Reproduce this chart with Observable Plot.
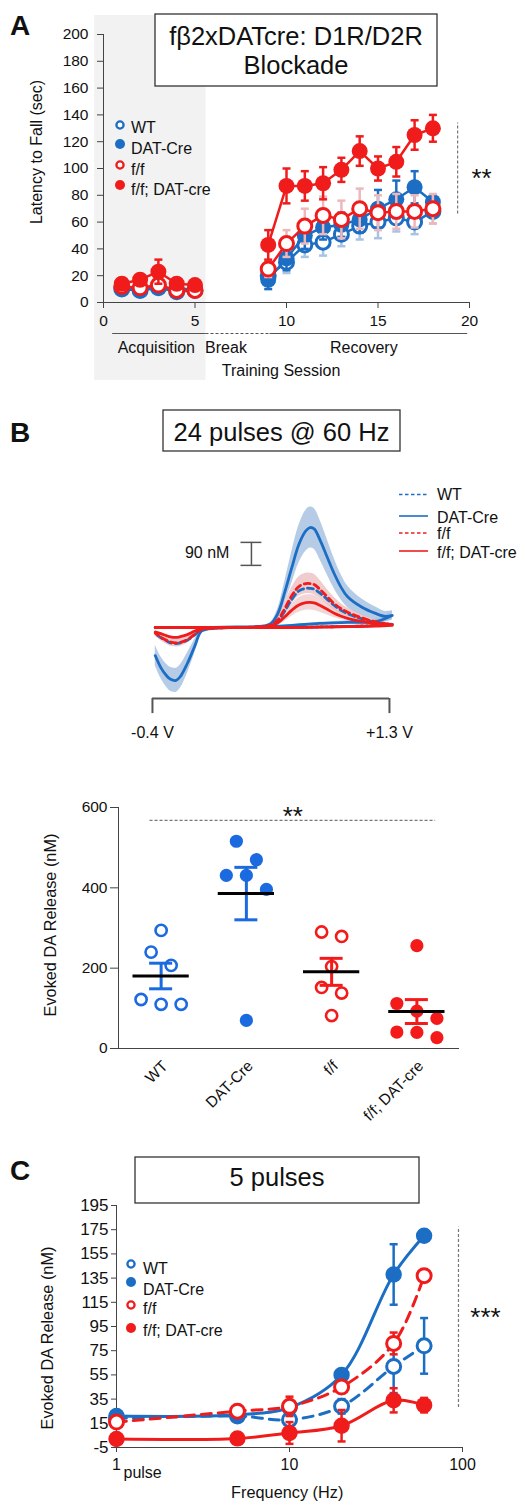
<!DOCTYPE html>
<html><head><meta charset="utf-8">
<script src="https://cdn.jsdelivr.net/npm/d3@7"></script>
<script src="https://cdn.jsdelivr.net/npm/@observablehq/plot@0.6"></script>
<style>
html,body{margin:0;padding:0;background:#fff;}
#root{position:relative;width:520px;height:1504px;overflow:hidden;background:#fff;}
</style></head>
<body><div id="root"></div>
<script>
// ================= DATA =================
const groups = ["WT", "DAT-Cre", "f/f", "f/f; DAT-cre"];

// Panel A: latency to fall (sec) per training session (mean, SEM)
const sessions   = [1, 2, 3, 4, 5, 9, 10, 11, 12, 13, 14, 15, 16, 17, 18];
const latWT      = [10, 9, 11, 8, 9, 20, 30, 43, 45, 51, 57, 60, 63, 60, 68];
const latWTse    = [2, 2, 2, 2, 2, 6, 8, 9, 10, 9, 10, 12, 10, 9, 9];
const latDAT     = [11, 10, 12, 10, 10, 17, 33, 50, 56, 58, 62, 70, 77, 86, 75];
const latDATse   = [2, 2, 2, 2, 2, 7, 9, 10, 9, 9, 10, 14, 14, 12, 5];
const latFF      = [12, 11, 13, 9, 9, 25, 44, 57, 65, 62, 70, 67, 68, 68, 70];
const latFFse    = [2, 2, 2, 2, 2, 6, 10, 13, 14, 14, 15, 13, 13, 12, 11];
const latFFDAT   = [14, 17, 23, 14, 13, 43, 87, 87, 89, 99, 113, 100, 105, 125, 130];
const latFFDATse = [3, 3, 9, 3, 3, 11, 13, 11, 12, 9, 11, 9, 11, 11, 10];
const phaseNames = ["Acquisition", "Break", "Recovery"];
const phaseStart = [0.5, 5.6, 9.1];
const phaseEnd   = [5.6, 9.1, 19.9];

// Panel B top: averaged cyclic voltammograms (V, nM), forward then reverse sweep
const cvFwdV = [-0.38, -0.2, 0, 0.2, 0.4, 0.45, 0.5, 0.55, 0.6, 0.65, 0.7, 0.73, 0.76, 0.8, 0.85, 0.9, 0.95, 1.0, 1.1, 1.2, 1.27, 1.32];
const cvRevV = [1.32, 1.2, 1.0, 0.8, 0.6, 0.4, 0.2, 0.05, 0, -0.05, -0.1, -0.15, -0.2, -0.23, -0.27, -0.3, -0.34, -0.38];
const cvDATfwd     = [0, 0, 0, 2, 6, 15, 55, 140, 235, 325, 378, 391, 386, 345, 280, 215, 160, 120, 80, 55, 43, 47];
const cvDATfwdSE   = [1, 1, 1, 1, 2, 6, 20, 42, 62, 74, 80, 80, 80, 78, 70, 60, 50, 42, 32, 25, 20, 18];
const cvDATrev     = [47, 23, 20, 16, 8, 2, 0, -2, -6, -15, -78, -141, -192, -207, -203, -188, -157, -110];
const cvDATrevSE   = [18, 10, 6, 4, 2, 1, 1, 2, 4, 10, 28, 40, 46, 47, 47, 45, 42, 40];
const cvWTfwd      = [0, 0, 0, 0, 3, 8, 25, 65, 110, 143, 153, 153, 150, 135, 112, 88, 68, 54, 34, 20, 14, 12];
const cvWTrev      = [12, 8, 4, 2, 0, 0, 0, -2, -4, -8, -30, -50, -60, -63, -60, -52, -40, -23];
const cvFFfwd      = [0, 0, 0, 0, 4, 10, 30, 75, 125, 160, 172, 172, 168, 150, 122, 95, 75, 60, 38, 22, 15, 12];
const cvFFfwdSE    = [1, 1, 1, 1, 2, 6, 14, 24, 32, 38, 40, 40, 40, 36, 30, 25, 20, 16, 12, 8, 6, 5];
const cvFFrev      = [12, 8, 4, 2, 0, 0, 0, -2, -4, -8, -28, -48, -58, -60, -57, -50, -38, -22];
const cvFFrevSE    = [5, 3, 2, 1, 1, 1, 1, 1, 2, 4, 10, 14, 16, 16, 16, 15, 14, 12];
const cvFFDATfwd   = [0, 0, 0, 0, 3, 6, 18, 42, 68, 88, 97, 98, 96, 87, 72, 57, 45, 36, 24, 15, 10, 8];
const cvFFDATfwdSE = [1, 1, 1, 1, 2, 4, 10, 18, 24, 28, 30, 30, 30, 27, 22, 18, 14, 11, 8, 6, 5, 4];
const cvFFDATrev   = [8, 5, 3, 1, 0, 0, 0, -1, -2, -4, -15, -28, -36, -39, -37, -32, -24, -18];

// Panel B bottom: evoked DA release per slice (nM)
const relWTpts    = [294, 240, 207, 122, 110, 110];
const relDATpts   = [516, 470, 431, 431, 396, 70];
const relFFpts    = [290, 279, 204, 152, 138, 82];
const relFFDATpts = [256, 112, 93, 75, 41, 40, 27];

// Panel C: 5 pulses, frequency response (nM, mean and SEM)
const freqs      = [1, 5, 10, 20, 40, 60];
const frqWT      = [19, 21, 18, 29, 62, 79];
const frqWTse    = [3, 3, 4, 6, 22, 23];
const frqDAT     = [21, 22, 28, 55, 138, 170];
const frqDATse   = [2, 3, 4, 4, 25, 4];
const frqFF      = [16, 25, 29, 45, 81, 137];
const frqFFse    = [3, 3, 8, 5, 9, 4];
const frqFFDAT   = [2, 2.5, 7, 13, 34, 30];
const frqFFDATse = [2, 2, 9, 13, 10, 6];

// ================= STYLE =================
const FONT = "'Liberation Sans', Arial, Helvetica, sans-serif";
const BLUE = "#1c6ec4", RED = "#f01c1c", LBLUE = "#a9c3e2", LRED = "#ecb8bc";
const BLUE2 = "#1b6ae0", RED2 = "#f41a1a";
const AX = "#444", TXT = "#111";
const baseStyle = {fontFamily: FONT, color: TXT, background: "transparent", overflow: "visible"};
const capSym = {draw(ctx, size) { const w = Math.sqrt(size / Math.PI); ctx.moveTo(-w, 0); ctx.lineTo(w, 0); }};

const root = document.getElementById("root");
function add(svg, top) {
  svg.style.position = "absolute"; svg.style.left = "0px"; svg.style.top = top + "px";
  root.appendChild(svg);
}

function seriesMarks(rows, s, o) {
  const m = [
    Plot.ruleX(rows, {x: "x", y1: d => d.y - d.se, y2: d => d.y + d.se, stroke: s.err, strokeWidth: o.ew}),
    Plot.dot(rows, {x: "x", y: d => d.y + d.se, symbol: capSym, r: o.cap, stroke: s.err, fill: "none", strokeWidth: o.ew}),
    Plot.dot(rows, {x: "x", y: d => d.y - d.se, symbol: capSym, r: o.cap, stroke: s.err, fill: "none", strokeWidth: o.ew}),
    Plot.line(rows, {x: "x", y: "y", z: "phase", stroke: s.color, strokeWidth: o.lw, curve: o.curve || "linear",
      strokeDasharray: s.dash || undefined})
  ];
  if (s.open) m.push(Plot.dot(rows, {x: "x", y: "y", r: o.ro, fill: "white", stroke: s.color, strokeWidth: o.sw}));
  else m.push(Plot.dot(rows, {x: "x", y: "y", r: o.rf, fill: s.color}));
  return m;
}

// ================= PANEL A =================
const phasesA = phaseNames.map((name, i) => ({name, start: phaseStart[i], end: phaseEnd[i]}));
const seriesA = [
  {key: "WT", vals: latWT, se: latWTse, color: BLUE, err: LBLUE, open: true},
  {key: "DAT-Cre", vals: latDAT, se: latDATse, color: BLUE, err: BLUE, open: false},
  {key: "f/f", vals: latFF, se: latFFse, color: RED, err: LRED, open: true},
  {key: "f/f; DAT-cre", vals: latFFDAT, se: latFFDATse, color: RED, err: RED, open: false}
];
const lastA = sessions.length - 1;
const sigA = {x: 19.35, y1: Math.min(latWT[lastA], latDAT[lastA], latFF[lastA]) - 2, y2: latFFDAT[lastA] + 4};

const plotA = Plot.plot({
  width: 520, height: 390, marginLeft: 103, marginRight: 51, marginTop: 34, marginBottom: 88,
  x: {domain: [0, 20]}, y: {domain: [0, 200]}, style: baseStyle,
  marks: [
    Plot.rect(phasesA.slice(0, 1), {x1: "start", x2: "end", fill: "#f2f2f2", insetLeft: -18, insetTop: -19, insetBottom: -78}),
    Plot.ruleY(phasesA.filter(p => p.name !== "Break"), {y: () => 0, x1: "start", x2: "end", dy: 31, stroke: "#555", strokeWidth: 1.2}),
    Plot.ruleY(phasesA.filter(p => p.name === "Break"), {y: () => 0, x1: "start", x2: "end", dy: 31, stroke: "#555", strokeWidth: 1.2, strokeDasharray: "3,2"}),
    Plot.text(phasesA.filter(p => p.name === "Acquisition"), {x: d => (d.start + d.end) / 2, y: () => 0, dy: 45, dx: -3, text: "name", fontSize: 16, fill: TXT}),
    Plot.text(phasesA.filter(p => p.name === "Break"), {x: d => (d.start + d.end) / 2, y: () => 0, dy: 45, dx: -12, text: "name", fontSize: 16, fill: TXT}),
    Plot.text(phasesA.filter(p => p.name === "Recovery"), {x: d => (d.start + d.end) / 2, y: () => 0, dy: 45, dx: -5, text: "name", fontSize: 16, fill: TXT}),
    Plot.text(["Training Session"], {x: () => 9.7, y: () => 0, dy: 68, fontSize: 16, fill: TXT}),
    Plot.axisY({ticks: d3.range(0, 201, 20), tickFormat: d => String(d), tickSize: 6, tickPadding: 9, fontSize: 15.5, label: null, stroke: AX, fill: TXT}),
    Plot.axisX({ticks: [0, 5, 10, 15, 20], tickFormat: d => String(d), tickSize: 6, tickPadding: 6, fontSize: 15.5, label: null, stroke: AX, fill: TXT}),
    Plot.ruleX([0], {y1: 0, y2: 200, stroke: AX}),
    Plot.ruleY([0], {x1: 0, x2: 20, stroke: AX}),
    ...seriesA.flatMap(s => seriesMarks(
      sessions.map((x, i) => ({x, y: s.vals[i], se: s.se[i], phase: x <= 5 ? 0 : 1})), s,
      {ew: 2.5, cap: 4, lw: 2.5, ro: 7, rf: 8, sw: 3})),
    Plot.ruleX([sigA], {x: "x", y1: "y1", y2: "y2", stroke: "#777", strokeDasharray: "3,2", strokeWidth: 1.2}),
    Plot.text([sigA], {x: "x", y: d => (d.y1 + d.y2) / 2, dx: 24, dy: 10, text: () => "**", fontSize: 26, fill: TXT})
  ]
});
add(plotA, 0);

// ================= PANEL B (voltammograms) =================
const cvSeries = [
  {key: "DAT-Cre", fwd: cvDATfwd, rev: cvDATrev, color: BLUE, dash: null, fse: cvDATfwdSE, rse: cvDATrevSE, band: LBLUE, bandOp: 0.85},
  {key: "WT", fwd: cvWTfwd, rev: cvWTrev, color: BLUE, dash: "6,4"},
  {key: "f/f", fwd: cvFFfwd, rev: cvFFrev, color: RED, dash: "6,4", fse: cvFFfwdSE, rse: cvFFrevSE, band: "#e3a3a6", bandOp: 0.55},
  {key: "f/f; DAT-cre", fwd: cvFFDATfwd, rev: cvFFDATrev, color: RED, dash: null, fse: cvFFDATfwdSE, band: "#e3a3a6", bandOp: 0.45}
];
const cvPath = s => [
  ...cvFwdV.map((v, i) => ({v, nM: s.fwd[i]})),
  ...cvRevV.map((v, i) => ({v, nM: s.rev[i]}))
];
const scaleBar = {v: 0.31, lo: 243, len: 90};
const voltBar = {v1: -0.4, v2: 1.3, y: -278};
const cvMarks = [];
cvSeries.forEach(s => {
  if (s.fse) cvMarks.push(Plot.areaY(cvFwdV.map((v, i) => ({v, lo: s.fwd[i] - s.fse[i], hi: s.fwd[i] + s.fse[i]})),
    {x: "v", y1: "lo", y2: "hi", fill: s.band, fillOpacity: s.bandOp, curve: "catmull-rom"}));
  if (s.rse) cvMarks.push(Plot.areaY(cvRevV.map((v, i) => ({v, lo: s.rev[i] - s.rse[i], hi: s.rev[i] + s.rse[i]})),
    {x: "v", y1: "lo", y2: "hi", fill: s.band, fillOpacity: s.bandOp, curve: "catmull-rom"}));
});
cvSeries.forEach(s => cvMarks.push(Plot.line(cvPath(s), {x: "v", y: "nM", stroke: s.color, strokeWidth: 2.8,
  strokeDasharray: s.dash || undefined, curve: "catmull-rom"})));

const plotCV = Plot.plot({
  width: 520, height: 300, margin: 0,
  x: {domain: [-1.49, 2.24], axis: null}, y: {domain: [-501, 673], axis: null}, style: baseStyle,
  marks: [
    ...cvMarks,
    Plot.ruleX([scaleBar], {x: "v", y1: "lo", y2: d => d.lo + d.len, stroke: "#555", strokeWidth: 1.5}),
    Plot.ruleY([scaleBar.lo, scaleBar.lo + scaleBar.len], {y: d => d, x1: scaleBar.v - 0.075, x2: scaleBar.v + 0.075, stroke: "#555", strokeWidth: 1.5}),
    Plot.text([scaleBar], {x: "v", y: d => d.lo + d.len / 2 + 4, dx: -22, textAnchor: "end", text: d => d.len + " nM", fontSize: 16, fill: TXT}),
    Plot.ruleY([voltBar], {y: "y", x1: "v1", x2: "v2", stroke: "#555", strokeWidth: 2}),
    Plot.ruleX([voltBar.v1, voltBar.v2], {x: d => d, y1: voltBar.y, y2: voltBar.y - 59, stroke: "#555", strokeWidth: 2}),
    Plot.text([voltBar.v1, voltBar.v2], {x: d => d, y: voltBar.y - 136, text: d => (d > 0 ? "+" : "-") + Math.abs(d).toFixed(1) + " V", fontSize: 16, fill: TXT})
  ]
});
add(plotCV, 455);

// ================= PANEL B (scatter) =================
const relPts = [relWTpts, relDATpts, relFFpts, relFFDATpts];
function swarm(vals, thresh, step) {
  const idx = vals.map((v, i) => i).sort((a, b) => vals[b] - vals[a]);
  const rows = []; let cur = null;
  idx.forEach(i => { if (!cur || vals[cur[0]] - vals[i] > thresh) { cur = [i]; rows.push(cur); } else cur.push(i); });
  const off = new Array(vals.length).fill(0);
  rows.forEach(r => r.forEach((i, k) => { off[i] = (k - (r.length - 1) / 2) * step; }));
  return off;
}
const pts = relPts.flatMap((vals, g) => { const off = swarm(vals, 50, 0.235); return vals.map((v, i) => ({g, v, x: g + off[i]})); });
const stats = relPts.map((vals, g) => ({g, mean: d3.mean(vals), se: d3.deviation(vals) / Math.sqrt(vals.length)}));
const scatColor = g => (g < 2 ? BLUE2 : RED2);
const sigB = {x1: -0.13, x2: 3.22, y: 568};

const plotS = Plot.plot({
  width: 520, height: 310, marginLeft: 118, marginRight: 61, marginTop: 17, marginBottom: 52,
  x: {domain: [-0.5, 3.5]}, y: {domain: [0, 600]}, style: baseStyle,
  marks: [
    Plot.axisY({ticks: [0, 200, 400, 600], tickFormat: d => String(d), tickSize: 8, tickPadding: 3, fontSize: 15.5, label: null, stroke: AX, fill: TXT}),
    Plot.axisX({ticks: [0, 1, 2, 3], tickFormat: i => groups[i], tickRotate: -45, tickSize: 0, tickPadding: 15, dx: 4,
      textAnchor: "end", fontSize: 15.5, label: null, fill: TXT}),
    Plot.ruleX([-0.5], {y1: 0, y2: 600, stroke: AX}),
    Plot.ruleY([0], {x1: -0.5, x2: 3.5, stroke: AX}),
    Plot.dot(pts.filter(d => d.g === 0 || d.g === 2), {x: "x", y: "v", r: 5.6, fill: "white", stroke: d => scatColor(d.g), strokeWidth: 2.6}),
    Plot.dot(pts.filter(d => d.g === 1 || d.g === 3), {x: "x", y: "v", r: 6.6, fill: d => scatColor(d.g)}),
    Plot.ruleX(stats, {x: "g", y1: d => d.mean - d.se, y2: d => d.mean + d.se, stroke: d => scatColor(d.g), strokeWidth: 3}),
    Plot.ruleY(stats, {y: d => d.mean + d.se, x1: d => d.g - 0.135, x2: d => d.g + 0.135, stroke: d => scatColor(d.g), strokeWidth: 3}),
    Plot.ruleY(stats, {y: d => d.mean - d.se, x1: d => d.g - 0.135, x2: d => d.g + 0.135, stroke: d => scatColor(d.g), strokeWidth: 3}),
    Plot.ruleY(stats, {y: "mean", x1: d => d.g - 0.33, x2: d => d.g + 0.33, stroke: "#000", strokeWidth: 3}),
    Plot.ruleY([sigB], {y: "y", x1: "x1", x2: "x2", stroke: "#777", strokeDasharray: "3,2", strokeWidth: 1.2}),
    Plot.text([sigB], {x: d => (d.x1 + d.x2) / 2, y: "y", dy: -4, text: () => "**", fontSize: 26, fill: TXT})
  ]
});
add(plotS, 790);

// ================= PANEL C =================
const seriesC = [
  {key: "WT", vals: frqWT, se: frqWTse, color: BLUE, err: BLUE, open: true, dash: "10,7"},
  {key: "DAT-Cre", vals: frqDAT, se: frqDATse, color: BLUE, err: BLUE, open: false},
  {key: "f/f", vals: frqFF, se: frqFFse, color: RED, err: RED, open: true, dash: "10,7"},
  {key: "f/f; DAT-cre", vals: frqFFDAT, se: frqFFDATse, color: RED, err: RED, open: false}
];
const lastC = freqs.length - 1;
const sigC = {x: 94.8, y1: frqFFDAT[lastC] - 2, y2: frqDAT[lastC] + 7};

const plotC = Plot.plot({
  width: 520, height: 354, marginLeft: 116, marginRight: 58, marginTop: 55, marginBottom: 57,
  x: {type: "log", domain: [1, 100]}, y: {domain: [-5, 195]}, style: baseStyle,
  marks: [
    Plot.axisY({ticks: d3.range(-5, 196, 20), tickFormat: d => String(d), tickSize: 5, tickPadding: 3, fontSize: 17, label: null, stroke: AX, fill: TXT}),
    Plot.axisX({ticks: [1, 10, 100], tickFormat: d => String(d), tickSize: 5, tickPadding: 6, fontSize: 16, label: null, stroke: AX, fill: TXT}),
    Plot.text(["pulse"], {x: () => 1, y: () => -5, dy: 25, dx: 7, textAnchor: "start", fontSize: 16, fill: TXT}),
    Plot.text(["Frequency (Hz)"], {x: () => 9.7, y: () => -5, dy: 45, fontSize: 16.3, fill: TXT}),
    Plot.ruleX([1], {y1: -5, y2: 195, stroke: AX}),
    Plot.ruleY([-5], {x1: 1, x2: 100, stroke: AX}),
    ...seriesC.flatMap(s => seriesMarks(
      freqs.map((x, i) => ({x, y: s.vals[i], se: s.se[i], phase: 0})), s,
      {ew: 2.5, cap: 4, lw: 3, ro: 7, rf: 8.2, sw: 3, curve: "catmull-rom"})),
    Plot.ruleX([sigC], {x: "x", y1: "y1", y2: "y2", stroke: "#777", strokeDasharray: "3,2", strokeWidth: 1.2}),
    Plot.text([sigC], {x: "x", y: d => (d.y1 + d.y2) / 2, dx: 27, dy: 0, text: () => "***", fontSize: 26, fill: TXT})
  ]
});
add(plotC, 1150);

// ================= TEXT OVERLAY: panel letters, titles, legends, axis titles =================
const ov = d3.select(root).append("svg").attr("width", 520).attr("height", 1504)
  .style("position", "absolute").style("left", "0px").style("top", "0px")
  .attr("font-family", FONT).attr("fill", TXT);
function txt(x, y, s, size, opts = {}) {
  const t = ov.append("text").attr("x", x).attr("y", y).attr("font-size", size).text(s);
  if (opts.anchor) t.attr("text-anchor", opts.anchor);
  if (opts.bold) t.attr("font-weight", "bold");
  if (opts.rotate) t.attr("transform", `rotate(${opts.rotate},${x},${y})`);
  return t;
}
function box(x, y, w, h) {
  ov.append("rect").attr("x", x).attr("y", y).attr("width", w).attr("height", h)
    .attr("fill", "white").attr("stroke", "#333").attr("stroke-width", 1.3);
}
// panel letters
txt(10, 35, "A", 28, {bold: true});
txt(10, 442, "B", 28, {bold: true});
txt(10, 1180, "C", 28, {bold: true});
// titles
box(155, 14, 282, 72);
txt(296, 45, "fβ2xDATcre: D1R/D2R", 25.5, {anchor: "middle"});
txt(296, 74, "Blockade", 25.5, {anchor: "middle"});
box(163, 410, 237, 41);
txt(281.5, 440.5, "24 pulses @ 60 Hz", 25.5, {anchor: "middle"});
box(135, 1157, 284, 46);
txt(277, 1186, "5 pulses", 25.5, {anchor: "middle"});
// axis titles
txt(42, 152, "Latency to Fall (sec)", 16, {anchor: "middle", rotate: -90});
txt(56, 925, "Evoked DA Release (nM)", 16.3, {anchor: "middle", rotate: -90});
txt(53, 1338, "Evoked DA Release (nM)", 16.3, {anchor: "middle", rotate: -90});

// marker legends (A and C)
function markerLegend(mx, tx, rows) {
  rows.forEach(r => {
    const s = r.s;
    if (s.open) ov.append("circle").attr("cx", mx).attr("cy", r.my).attr("r", 3.6)
      .attr("fill", "white").attr("stroke", s.color).attr("stroke-width", 2.3);
    else ov.append("circle").attr("cx", mx).attr("cy", r.my).attr("r", 5).attr("fill", s.color);
    txt(tx, r.ty, s.key, 16);
  });
}
markerLegend(120, 131, [
  {s: seriesA[0], my: 125, ty: 132.5}, {s: seriesA[1], my: 144, ty: 154},
  {s: seriesA[2], my: 165, ty: 174.5}, {s: seriesA[3], my: 185, ty: 195}
]);
markerLegend(131, 143, [
  {s: seriesC[0], my: 1264, ty: 1273.5}, {s: seriesC[1], my: 1282, ty: 1295},
  {s: seriesC[2], my: 1305, ty: 1313.5}, {s: seriesC[3], my: 1328, ty: 1336}
]);
// line legend (B)
const cvLegendRows = [
  {s: cvSeries[1], ly: 494.5, ty: 500}, {s: cvSeries[0], ly: 516, ty: 522.5},
  {s: cvSeries[2], ly: 533, ty: 538.5}, {s: cvSeries[3], ly: 551, ty: 558}
];
cvLegendRows.forEach(r => {
  const l = ov.append("line").attr("x1", 399).attr("x2", 428).attr("y1", r.ly).attr("y2", r.ly)
    .attr("stroke", r.s.color).attr("stroke-width", 1.6);
  if (r.s.dash) l.attr("stroke-dasharray", "3.5,2.5");
  txt(437, r.ty, r.s.key, 16);
});
</script>
</body></html>
